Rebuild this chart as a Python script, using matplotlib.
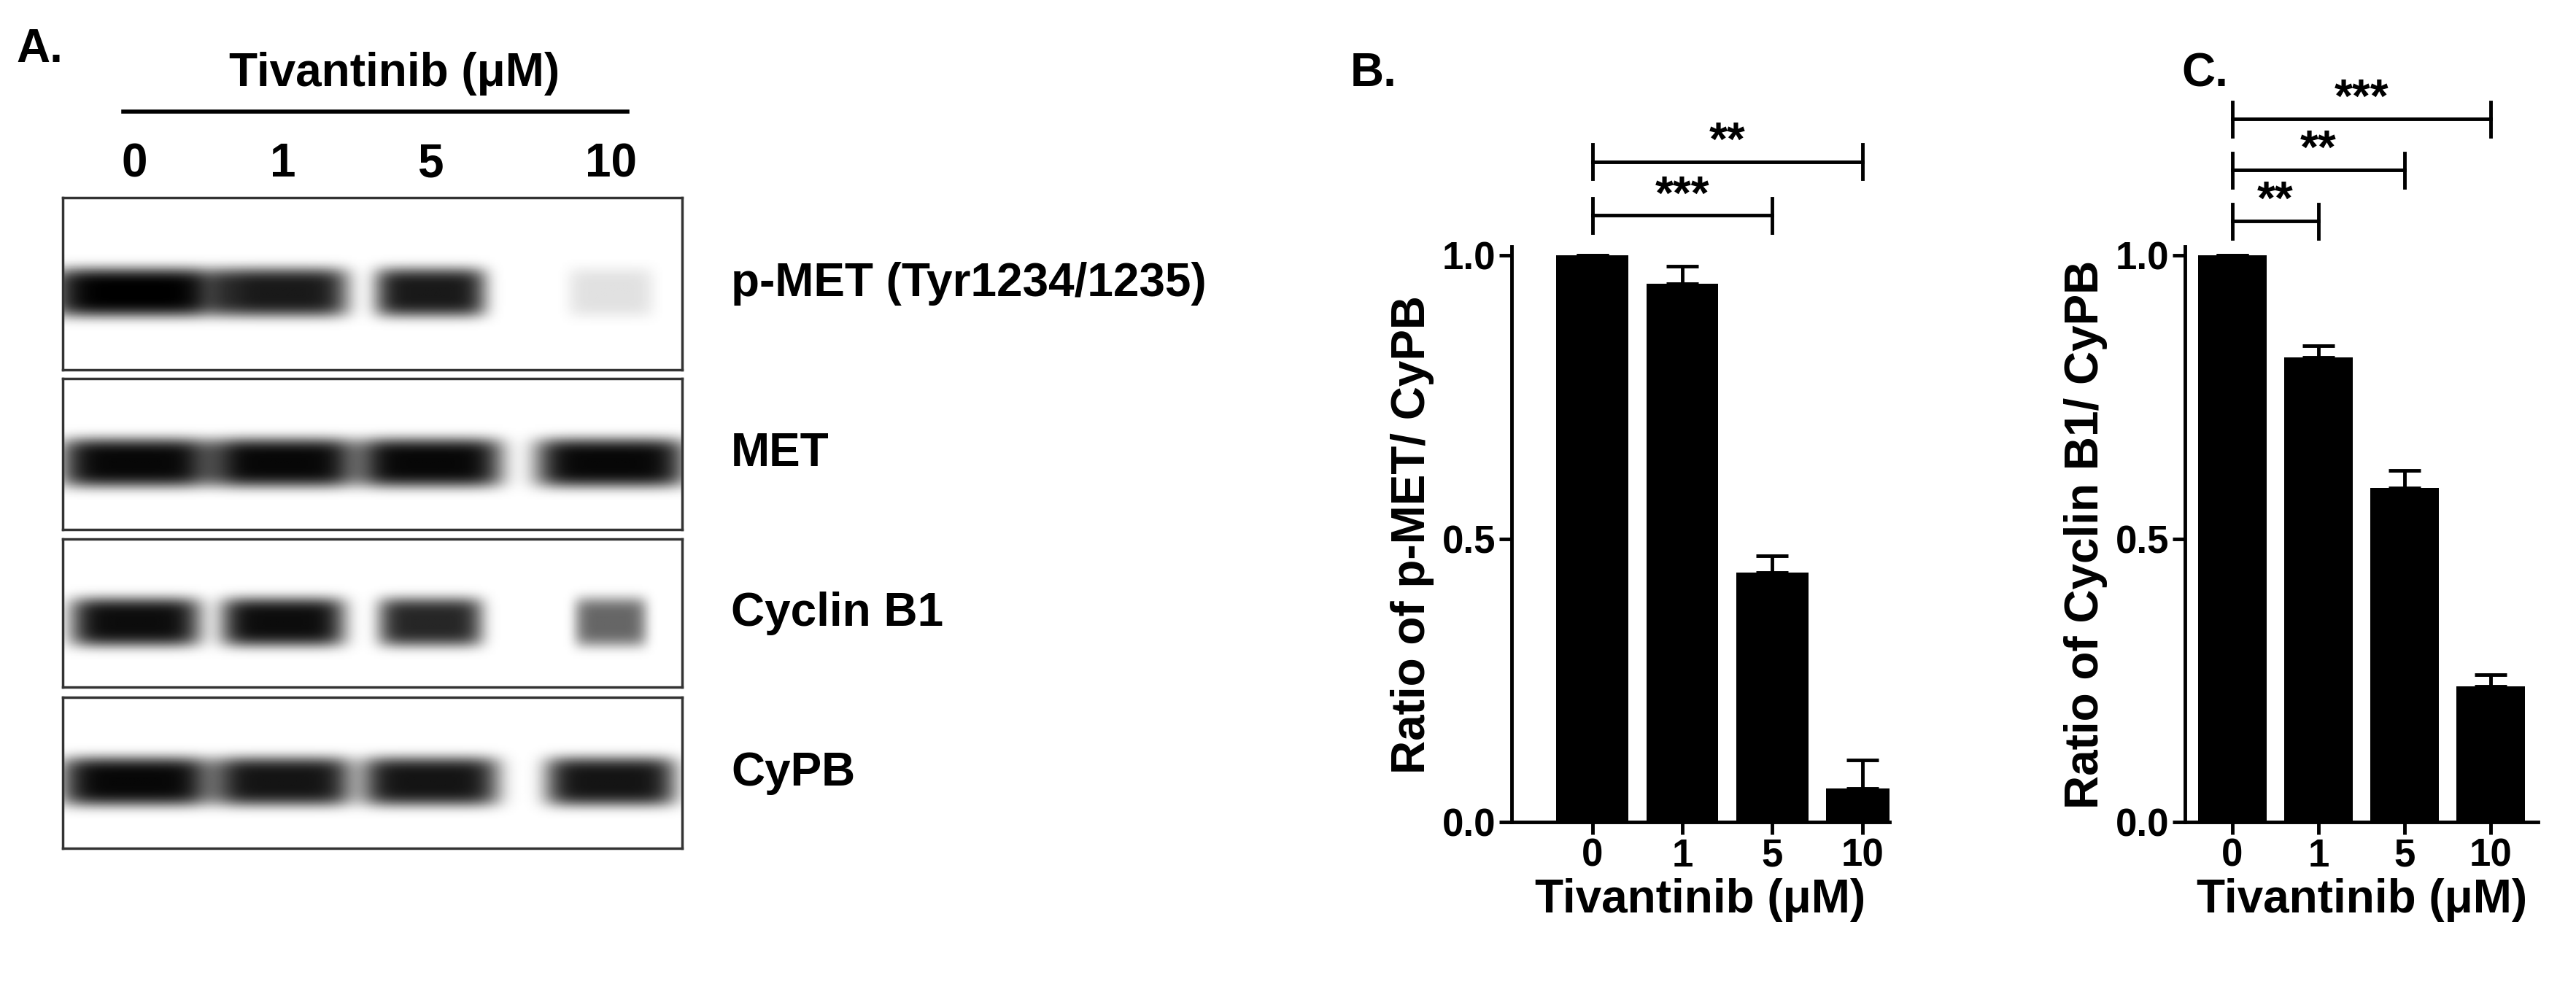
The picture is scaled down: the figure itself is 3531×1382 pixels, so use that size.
import numpy as np
import matplotlib.pyplot as plt

plt.rcParams['font.family'] = ['Liberation Sans', 'DejaVu Sans']
plt.rcParams['font.weight'] = 'bold'
plt.rcParams['axes.labelweight'] = 'bold'

W, H = 1568.0, 613.0  # layout grid of the reference (scaled)

doses = ['0', '1', '5', '10']
blot_names = ['p-MET (Tyr1234/1235)', 'MET', 'Cyclin B1', 'CyPB']
# relative band intensity / band half-width per lane
band_int = [[1.0, 0.9, 0.9, 0.12],
            [0.97, 0.97, 0.97, 0.97],
            [0.95, 0.95, 0.85, 0.6],
            [0.97, 0.92, 0.92, 0.92]]
band_wid = [[52, 40, 34, 26],
            [46, 44, 44, 46],
            [40, 38, 32, 22],
            [46, 42, 42, 40]]

pmet_mean = [1.0, 0.95, 0.44, 0.06]
pmet_err = [0.0, 0.03, 0.03, 0.05]
cyc_mean = [1.0, 0.82, 0.59, 0.24]
cyc_err = [0.0, 0.02, 0.03, 0.02]
pmet_sig = [(0, 2, '***'), (0, 3, '**')]
cyc_sig = [(0, 1, '**'), (0, 2, '**'), (0, 3, '***')]

fig = plt.figure(figsize=(35.31, 13.82), dpi=100)


def fx(x):
    return x / W


def fy(y):
    return 1 - y / H


def ax_at(x0, y0, x1, y1):
    return fig.add_axes([fx(x0), fy(y1), fx(x1 - x0), (y1 - y0) / H])


fs = 46
fig.text(fx(10), fy(30), 'A.', fontsize=fs, va='center')
fig.text(fx(240), fy(45), 'Tivantinib (μM)', fontsize=fs, ha='center', va='center')
fig.add_artist(plt.Line2D([fx(75), fx(382)], [fy(68), fy(68)], color='k', lw=4))
lane_x = [82, 172, 262, 372]
for lx, d in zip(lane_x, doses):
    fig.text(fx(lx), fy(100), d, fontsize=fs, ha='center', va='center')

boxes = [(120, 225), (230, 322), (328, 418), (424, 516)]
xs = np.arange(38, 416)
for (y0, y1), name, ints, wids in zip(boxes, blot_names, band_int, band_wid):
    ys = np.arange(y0, y1)
    yc = (y0 + y1) / 2 + 5
    X, Y = np.meshgrid(xs, ys)
    img = np.zeros_like(X, dtype=float)
    for lx, a, w in zip(lane_x, ints, wids):
        img += a * np.exp(-((X - lx) / w) ** 6) * np.exp(-((Y - yc) / 15) ** 4)
    img = np.clip(img, 0, 1)
    ax = ax_at(38, y0, 415, y1)
    ax.imshow(1 - img, cmap='gray', vmin=0, vmax=1, aspect='auto',
              extent=(xs[0], xs[-1], ys[-1], ys[0]))
    ax.set_xticks([])
    ax.set_yticks([])
    for s in ax.spines.values():
        s.set_linewidth(2.5)
        s.set_color('#333333')
    fig.text(fx(445), fy((y0 + y1) / 2), name, fontsize=fs, va='center')


def bar_panel(x0, x1, xlim, means, errs, sigs, ylabel, sig_y):
    ax = ax_at(x0, 150, x1, 500)
    pos = np.arange(len(doses))
    ax.bar(pos, means, width=0.8, color='black')
    ax.errorbar(pos, means, yerr=[np.zeros(len(errs)), errs], fmt='none',
                ecolor='black', elinewidth=3.5, capsize=16, capthick=3.5)
    ax.set_xlim(*xlim)
    ax.set_ylim(0, 1.015)
    ax.set_yticks([0, 0.5, 1.0])
    ax.set_yticklabels(['0.0', '0.5', '1.0'])
    ax.set_xticks(pos)
    ax.set_xticklabels(doses)
    ax.tick_params(labelsize=38, width=3.5, length=12)
    for s in ['top', 'right']:
        ax.spines[s].set_visible(False)
    for s in ['left', 'bottom']:
        ax.spines[s].set_linewidth(3.5)
    ax.set_xlabel('Tivantinib (μM)', fontsize=fs, labelpad=4)
    ax.set_ylabel(ylabel, fontsize=fs, labelpad=8)
    for (a, b, t), y in zip(sigs, sig_y):
        ax.plot([a, b], [y, y], color='k', lw=3.5, clip_on=False)
        for p in (a, b):
            ax.plot([p, p], [y - 0.03, y + 0.03], color='k', lw=3.5, clip_on=False)
        ax.text((a + b) / 2, y - 0.005, t, fontsize=fs, ha='center', va='bottom')
    return ax


bar_panel(920, 1150, (-0.9, 3.3), pmet_mean, pmet_err, pmet_sig,
          'Ratio of p-MET/ CyPB', [1.07, 1.165])
bar_panel(1330, 1545, (-0.55, 3.55), cyc_mean, cyc_err, cyc_sig,
          'Ratio of Cyclin B1/ CyPB', [1.06, 1.15, 1.24])
fig.text(fx(822), fy(45), 'B.', fontsize=fs, va='center')
fig.text(fx(1328), fy(45), 'C.', fontsize=fs, va='center')

fig.savefig('out.png', dpi=100)
